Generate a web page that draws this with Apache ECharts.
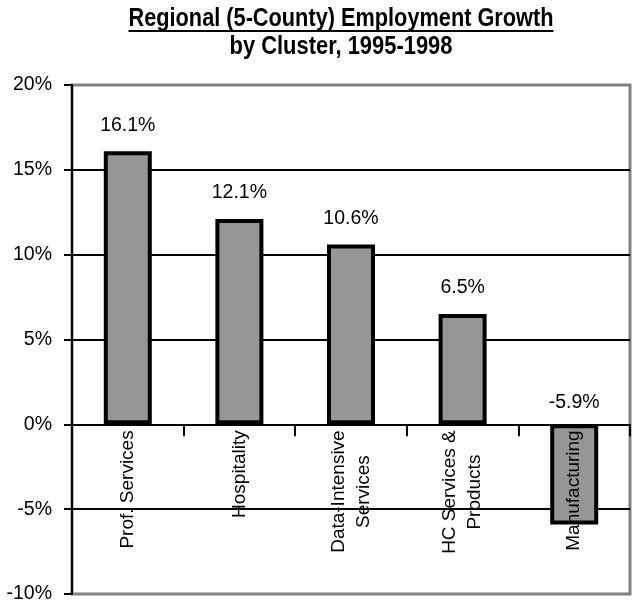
<!DOCTYPE html>
<html>
<head>
<meta charset="utf-8">
<script src="https://cdn.jsdelivr.net/npm/echarts@6/dist/echarts.min.js"></script>
<style>
  html, body { margin: 0; padding: 0; background: #ffffff; }
  #chart { width: 632px; height: 607px; }
</style>
</head>
<body>
<div id="chart"></div>
<script>
// Employment growth by cluster, 1995-1998 (percent)
const categories = ['Prof. Services', 'Hospitality', 'Data-Intensive\nServices', 'HC Services &\nProducts', 'Manufacturing'];
const growth = [16.1, 12.1, 10.6, 6.5, -5.9];
const yRange = { min: -10, max: 20, step: 5 };
const titleLines = ['Regional (5-County) Employment Growth', 'by Cluster, 1995-1998'];

const FONT = '"Liberation Sans", Arial, Helvetica, sans-serif';
const FS = 19.5;      // tick and value labels
const CAT_FS = 19;    // rotated category names

// Plot box
const GRID = { left: 72, right: 2, top: 85, bottom: 13 };
const plotHeight = 607 - GRID.top - GRID.bottom;
// Category names hang just under the zero line rather than at the bottom edge.
const zeroFromBottom = plotHeight * (0 - yRange.min) / (yRange.max - yRange.min);
const catLabelMargin = 6 - zeroFromBottom;

// Title type is tall and narrow: draw at full height, then squeeze horizontally.
const probe = document.createElement('canvas').getContext('2d');
function textWidth(font, text) { probe.font = font; return probe.measureText(text).width; }
const titleX = 341;
const TITLE_FS = 25;
const titleFont = 'bold ' + TITLE_FS + 'px ' + FONT;
const sx1 = 425 / textWidth(titleFont, titleLines[0]);
const sx2 = 223 / textWidth(titleFont, titleLines[1]);

const chart = echarts.init(document.getElementById('chart'), null, { renderer: 'canvas' });

chart.setOption({
  animation: false,
  backgroundColor: '#ffffff',
  textStyle: { fontFamily: FONT, color: '#000' },
  graphic: [
    {
      type: 'text', x: titleX, y: 19, scaleX: sx1,
      style: { text: titleLines[0], font: titleFont, fill: '#000', align: 'center', verticalAlign: 'middle' }
    },
    {
      type: 'line',
      shape: { x1: titleX - 212.5, y1: 31, x2: titleX + 212.5, y2: 31 },
      style: { stroke: '#000', lineWidth: 2 }
    },
    {
      type: 'text', x: titleX, y: 47, scaleX: sx2,
      style: { text: titleLines[1], font: titleFont, fill: '#000', align: 'center', verticalAlign: 'middle' }
    }
  ],
  grid: Object.assign({
    outerBoundsMode: 'none',
    show: true, borderColor: '#808080', borderWidth: 3, backgroundColor: 'transparent',
    containLabel: false
  }, GRID),
  xAxis: {
    type: 'category',
    data: categories,
    z: 5,
    axisLine: { show: true, onZero: true, lineStyle: { color: '#000', width: 2 } },
    axisTick: { show: true, inside: false, length: 12, interval: 0, lineStyle: { color: '#000', width: 2 } },
    axisLabel: {
      interval: 0, rotate: 90, margin: catLabelMargin, color: '#000',
      fontFamily: FONT, fontSize: CAT_FS, lineHeight: 25,
      formatter: v => v.split('\n').map(s => '{c|' + s + '}').join('\n'),
      rich: { c: { align: 'center', fontFamily: FONT, fontSize: CAT_FS, lineHeight: 25, color: '#000' } }
    },
    splitLine: { show: false }
  },
  yAxis: {
    type: 'value',
    min: yRange.min, max: yRange.max, interval: yRange.step,
    axisLine: { show: true, lineStyle: { color: '#000', width: 2 } },
    axisTick: { show: true, inside: false, length: 8, lineStyle: { color: '#000', width: 2 } },
    axisLabel: { margin: 20, color: '#000', fontFamily: FONT, fontSize: FS, formatter: v => v + '%' },
    splitLine: { show: true, showMinLine: false, showMaxLine: false, lineStyle: { color: '#000', width: 2 } }
  },
  series: [{
    type: 'bar',
    data: growth.map(v => v < 0 ? { value: v, label: { distance: 12 } } : v),
    barWidth: 48,
    itemStyle: { color: '#969696', borderColor: '#000', borderWidth: 4 },
    label: {
      show: true, position: 'top', distance: 16, color: '#000',
      fontFamily: FONT, fontSize: FS,
      formatter: p => p.value.toFixed(1) + '%'
    }
  }]
});
</script>
</body>
</html>
